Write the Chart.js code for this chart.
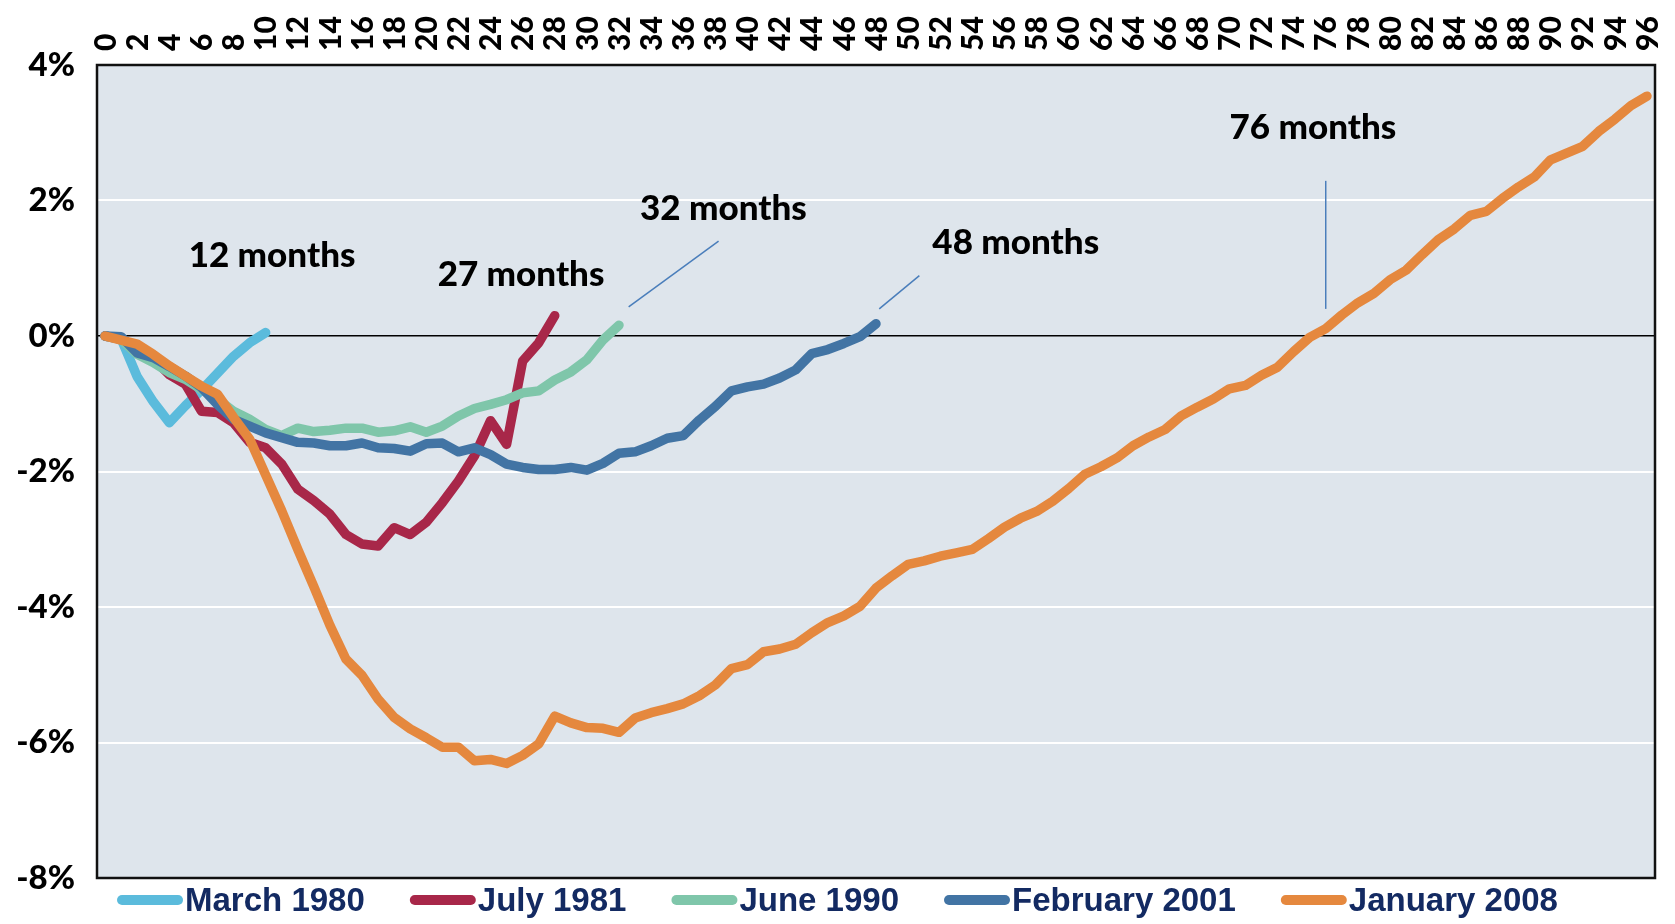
<!DOCTYPE html>
<html>
<head>
<meta charset="utf-8">
<script src="https://cdn.jsdelivr.net/npm/chart.js@4.4.1/dist/chart.umd.min.js"></script>
<style>
  html, body { margin: 0; padding: 0; background: #ffffff; }
  #wrap { width: 1675px; height: 924px; }
</style>
</head>
<body>
<div id="wrap"><canvas id="c" width="1675" height="924"></canvas></div>
<script>
// ---- categories (months since start) ----
const months = [0,1,2,3,4,5,6,7,8,9,10,11,12,13,14,15,16,17,18,19,20,21,22,23,24,25,26,27,28,29,30,31,32,33,34,35,36,37,38,39,40,41,42,43,44,45,46,47,48,49,50,51,52,53,54,55,56,57,58,59,60,61,62,63,64,65,66,67,68,69,70,71,72,73,74,75,76,77,78,79,80,81,82,83,84,85,86,87,88,89,90,91,92,93,94,95,96];

// ---- series (% change from start) ----
const march1980 = [0, -0.04, -0.60, -0.97, -1.28, -1.03, -0.80, -0.55, -0.30, -0.10, 0.05];
const july1981 = [0, -0.05, -0.18, -0.33, -0.57, -0.71, -1.11, -1.13, -1.28, -1.57,
  -1.65, -1.89, -2.26, -2.43, -2.63, -2.93, -3.07, -3.10, -2.83, -2.93,
  -2.75, -2.46, -2.14, -1.77, -1.25, -1.60, -0.37, -0.10, 0.30];
const june1990 = [0, -0.05, -0.27, -0.39, -0.54, -0.64, -0.79, -0.93, -1.11, -1.23,
  -1.38, -1.47, -1.36, -1.41, -1.39, -1.36, -1.36, -1.42, -1.40, -1.34,
  -1.42, -1.33, -1.18, -1.07, -1.01, -0.94, -0.84, -0.81, -0.65, -0.53,
  -0.35, -0.06, 0.16];
const feb2001 = [0, -0.01, -0.25, -0.32, -0.45, -0.59, -0.76, -1.01, -1.23, -1.33,
  -1.43, -1.50, -1.57, -1.58, -1.62, -1.62, -1.58, -1.65, -1.66, -1.70,
  -1.59, -1.58, -1.71, -1.65, -1.75, -1.89, -1.94, -1.97, -1.97, -1.94,
  -1.98, -1.88, -1.73, -1.71, -1.62, -1.51, -1.47, -1.24, -1.04, -0.81,
  -0.75, -0.71, -0.62, -0.50, -0.26, -0.20, -0.11, -0.01, 0.18];
const jan2008 = [0, -0.06, -0.12, -0.27, -0.44, -0.59, -0.74, -0.86, -1.20, -1.52,
  -2.05, -2.58, -3.15, -3.70, -4.27, -4.77, -5.01, -5.36, -5.63, -5.80,
  -5.93, -6.07, -6.07, -6.27, -6.25, -6.31, -6.19, -6.02, -5.61, -5.71,
  -5.78, -5.79, -5.85, -5.64, -5.56, -5.50, -5.43, -5.31, -5.15, -4.91,
  -4.85, -4.66, -4.62, -4.55, -4.38, -4.23, -4.13, -3.99, -3.72, -3.54,
  -3.37, -3.32, -3.25, -3.20, -3.15, -2.99, -2.82, -2.69, -2.59, -2.44,
  -2.25, -2.04, -1.93, -1.80, -1.62, -1.49, -1.38, -1.18, -1.05, -0.93,
  -0.78, -0.73, -0.58, -0.46, -0.23, -0.02, 0.11, 0.31, 0.49, 0.63,
  0.83, 0.97, 1.20, 1.42, 1.58, 1.78, 1.84, 2.03, 2.20, 2.35,
  2.60, 2.70, 2.80, 3.02, 3.20, 3.40, 3.54];

const seriesNames = ["March 1980", "July 1981", "June 1990", "February 2001", "January 2008"];
const seriesColors = ["#5bbbdc", "#a82749", "#7fc6aa", "#4274a4", "#e5883e"];

// ---- y tick values ----
const yTicks = [-8, -6, -4, -2, 0, 2, 4];

// ---- annotations (data coords: month index, % value) ----
const annotTexts = ["12 months", "27 months", "32 months", "48 months", "76 months"];
const annotX = [10.4, 25.9, 38.5, 56.7, 75.2];
const annotY = [1.02, 0.74, 1.71, 1.21, 2.91];
const leaderX1 = [32.6, 48.2, 76.0];
const leaderY1 = [0.43, 0.40, 0.40];
const leaderX2 = [38.2, 50.7, 76.0];
const leaderY2 = [1.40, 0.89, 2.29];

const seriesData = [march1980, july1981, june1990, feb2001, jan2008];

const datasets = seriesData.map((d, i) => ({
  label: seriesNames[i],
  data: d,
  borderColor: seriesColors[i],
  backgroundColor: seriesColors[i],
  borderWidth: 9.5,
  pointRadius: 0,
  pointHoverRadius: 0,
  tension: 0,
  fill: false,
  borderCapStyle: 'round',
  borderJoinStyle: 'round',
  order: seriesData.length - i
}));

const plotBg = {
  id: 'plotBg',
  beforeDraw(chart) {
    const {ctx, chartArea: a} = chart;
    ctx.save();
    ctx.fillStyle = '#dee5ec';
    ctx.fillRect(a.left, a.top, a.right - a.left, a.bottom - a.top);
    ctx.restore();
  }
};

const xLabelPlugin = {
  id: 'xLabels',
  afterDraw(chart) {
    const xs = chart.scales.x, ctx = chart.ctx;
    ctx.save();
    ctx.fillStyle = '#000000';
    ctx.font = '900 30px Lato, "Liberation Sans", sans-serif';
    ctx.textAlign = 'left';
    ctx.textBaseline = 'middle';
    xs.ticks.forEach((t, i) => {
      if (i % 2 !== 0) return;
      ctx.save();
      ctx.translate(xs.getPixelForTick(i), chart.chartArea.top - 14);
      ctx.rotate(-Math.PI / 2);
      ctx.fillText(String(months[i]), 0, 1);
      ctx.restore();
    });
    ctx.restore();
  }
};

const annotPlugin = {
  id: 'annot',
  afterDatasetsDraw(chart) {
    const {ctx} = chart;
    const xs = chart.scales.x, ys = chart.scales.y;
    ctx.save();
    ctx.strokeStyle = '#4a7ebb';
    ctx.lineWidth = 1.5;
    for (let i = 0; i < leaderX1.length; i++) {
      ctx.beginPath();
      ctx.moveTo(xs.getPixelForValue(leaderX1[i]), ys.getPixelForValue(leaderY1[i]));
      ctx.lineTo(xs.getPixelForValue(leaderX2[i]), ys.getPixelForValue(leaderY2[i]));
      ctx.stroke();
    }
    ctx.fillStyle = '#000000';
    ctx.font = '900 35px Lato, "Liberation Sans", sans-serif';
    ctx.textAlign = 'center';
    ctx.textBaseline = 'alphabetic';
    for (let i = 0; i < annotTexts.length; i++) {
      ctx.fillText(annotTexts[i], xs.getPixelForValue(annotX[i]), ys.getPixelForValue(annotY[i]));
    }
    ctx.restore();
  },
  afterDraw(chart) {
    const {ctx, chartArea: a} = chart;
    ctx.save();
    ctx.strokeStyle = '#111111';
    ctx.lineWidth = 2.5;
    ctx.strokeRect(a.left, a.top, a.right - a.left, a.bottom - a.top);
    // custom legend
    ctx.font = 'bold 33px "Liberation Sans", Arial, sans-serif';
    const lineLen = 66, gapText = 2, gapItem = 45;
    const widths = seriesNames.map(t => ctx.measureText(t).width);
    let total = 0;
    widths.forEach((w, i) => { total += lineLen + gapText + w + (i < widths.length - 1 ? gapItem : 0); });
    let x = chart.width / 2 - total / 2;
    const y = 900;
    ctx.textBaseline = 'middle';
    ctx.textAlign = 'left';
    seriesNames.forEach((t, i) => {
      ctx.strokeStyle = seriesColors[i];
      ctx.lineWidth = 10;
      ctx.lineCap = 'round';
      ctx.beginPath();
      ctx.moveTo(x + 5, y);
      ctx.lineTo(x + lineLen - 5, y);
      ctx.stroke();
      ctx.fillStyle = '#132a62';
      ctx.fillText(t, x + lineLen + gapText, y + 2);
      x += lineLen + gapText + widths[i] + gapItem;
    });
    ctx.restore();
  }
};

new Chart(document.getElementById('c'), {
  type: 'line',
  data: { labels: months, datasets: datasets },
  options: {
    responsive: false,
    devicePixelRatio: 1,
    animation: false,
    layout: { padding: { left: 0, right: 20, top: 0, bottom: 46 } },
    plugins: {
      legend: { display: false },
      tooltip: { enabled: false }
    },
    scales: {
      x: {
        type: 'category',
        position: 'top',
        offset: true,
        grid: { display: false, drawTicks: false },
        border: { display: false },
        afterFit(s) { s.height = 65; },
        ticks: { display: false, autoSkip: false }
      },
      y: {
        min: -8,
        max: 4,
        afterFit(s) { s.width = 97; },
        afterBuildTicks(s) { s.ticks = yTicks.map(v => ({ value: v })); },
        grid: {
          drawTicks: false,
          color: (c) => (c.tick && c.tick.value === 0) ? '#000000' : '#ffffff',
          lineWidth: (c) => (c.tick && c.tick.value === 0) ? 1.5 : 2
        },
        border: { display: false },
        ticks: {
          padding: 22,
          color: '#000000',
          font: { family: 'Lato, "Liberation Sans", sans-serif', weight: '900', size: 33 },
          callback: (v) => v + '%'
        }
      }
    }
  },
  plugins: [plotBg, xLabelPlugin, annotPlugin]
});
</script>
</body>
</html>
